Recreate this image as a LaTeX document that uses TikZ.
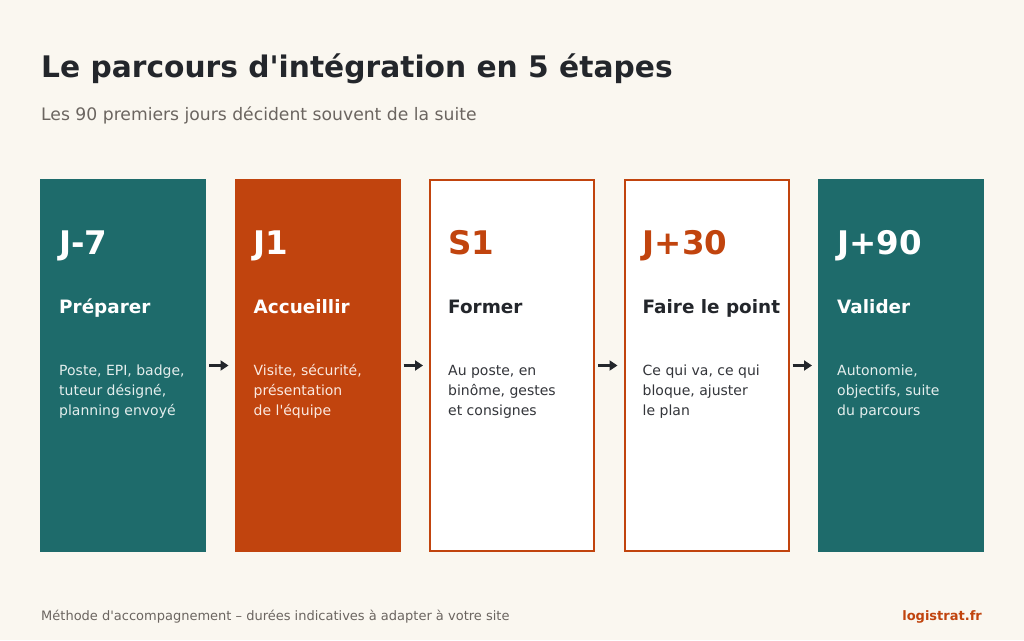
\documentclass[tikz,border=0pt]{standalone}
\usepackage{fontspec}
\newfontfamily\dejavu{DejaVu Sans}
\usetikzlibrary{arrows.meta,positioning}
\definecolor{pagebg}{HTML}{FAF7F0}
\definecolor{tealbox}{HTML}{1E6B6B}
\definecolor{rustbox}{HTML}{C1440E}
\definecolor{inkdark}{HTML}{23262B}
\definecolor{inkgrey}{HTML}{6B6560}
\definecolor{teallight}{HTML}{E4EEED}
\definecolor{rustlight}{HTML}{FBE9E0}
\definecolor{plaindesc}{HTML}{33353A}
\begin{document}
\dejavu
\begin{tikzpicture}[x=1pt,y=-1pt,
	stepbox/.style={rectangle, anchor=north west, inner sep=0pt, line width=2pt,
		minimum width=164pt, minimum height=371pt},
	daylabel/.style={anchor=base west, inner sep=0pt, font=\fontsize{32.5}{36}\selectfont\bfseries},
	headlabel/.style={anchor=base west, inner sep=0pt, font=\fontsize{18.4}{22}\selectfont\bfseries},
	desclabel/.style={anchor=base west, inner sep=0pt, align=left, font=\fontsize{14}{20}\selectfont},
	flow/.style={-{Triangle[length=8pt,width=10pt]}, line width=2.2pt, color=inkdark,
		shorten <=3pt, shorten >=6pt}]
	% page
	\fill[pagebg] (0,0) rectangle (1024,640);
	\useasboundingbox (0,0) rectangle (1024,640);
	
	% titles
	\node[anchor=base west, inner sep=0pt, text=inkdark, font=\fontsize{29.7}{34}\selectfont\bfseries]
		(title) at (41,77) {Le parcours d'intégration en 5 étapes};
	\node[anchor=base west, inner sep=0pt, text=inkgrey, font=\fontsize{17.2}{20}\selectfont]
		(subtitle) at (41,120) {Les 90 premiers jours décident souvent de la suite};
	
	% steps
	\foreach \i/\fillc/\linec/\dayc/\headc/\descc/\day/\head/\descA/\descB/\descC in {
		1/tealbox/tealbox/white/white/teallight/J-7/Préparer/{Poste, EPI, badge,}/{tuteur désigné,}/{planning envoyé},
		2/rustbox/rustbox/white/white/rustlight/J1/Accueillir/{Visite, sécurité,}/{présentation}/{de l'équipe},
		3/white/rustbox/rustbox/inkdark/plaindesc/S1/Former/{Au poste, en}/{binôme, gestes}/{et consignes},
		4/white/rustbox/rustbox/inkdark/plaindesc/J+30/Faire le point/{Ce qui va, ce qui}/{bloque, ajuster}/{le plan},
		5/tealbox/tealbox/white/white/teallight/J+90/Valider/{Autonomie,}/{objectifs, suite}/{du parcours}}
	{
		\node[stepbox, fill=\fillc, draw=\linec] (step\i) at ({40+194.5*(\i-1)},179) {};
		\node[daylabel, text=\dayc] (day\i) at ([shift={(19,75)}]step\i.north west) {\day};
		\node[headlabel, text=\headc] (head\i) at ([shift={(19,134)}]step\i.north west) {\head};
		% base of a multi-line node sits on its last line
		\node[desclabel, text=\descc] (desc\i) at ([shift={(19,236)}]step\i.north west) {\descA\\\descB\\\descC};
	}
	
	% arrows
	\foreach \i [evaluate=\i as \j using int(\i+1)] in {1,...,4}
	\draw[flow] (step\i.east) -- (step\j.west);
	
	% footer
	\node[anchor=base west, inner sep=0pt, text=inkgrey, font=\fontsize{13}{16}\selectfont]
		(note) at (41,620) {Méthode d'accompagnement – durées indicatives à adapter à votre site};
	\node[anchor=base east, inner sep=0pt, text=rustbox, font=\fontsize{13}{16}\selectfont\bfseries]
		(brand) at (982,620) {logistrat.fr};
\end{tikzpicture}
\end{document}
